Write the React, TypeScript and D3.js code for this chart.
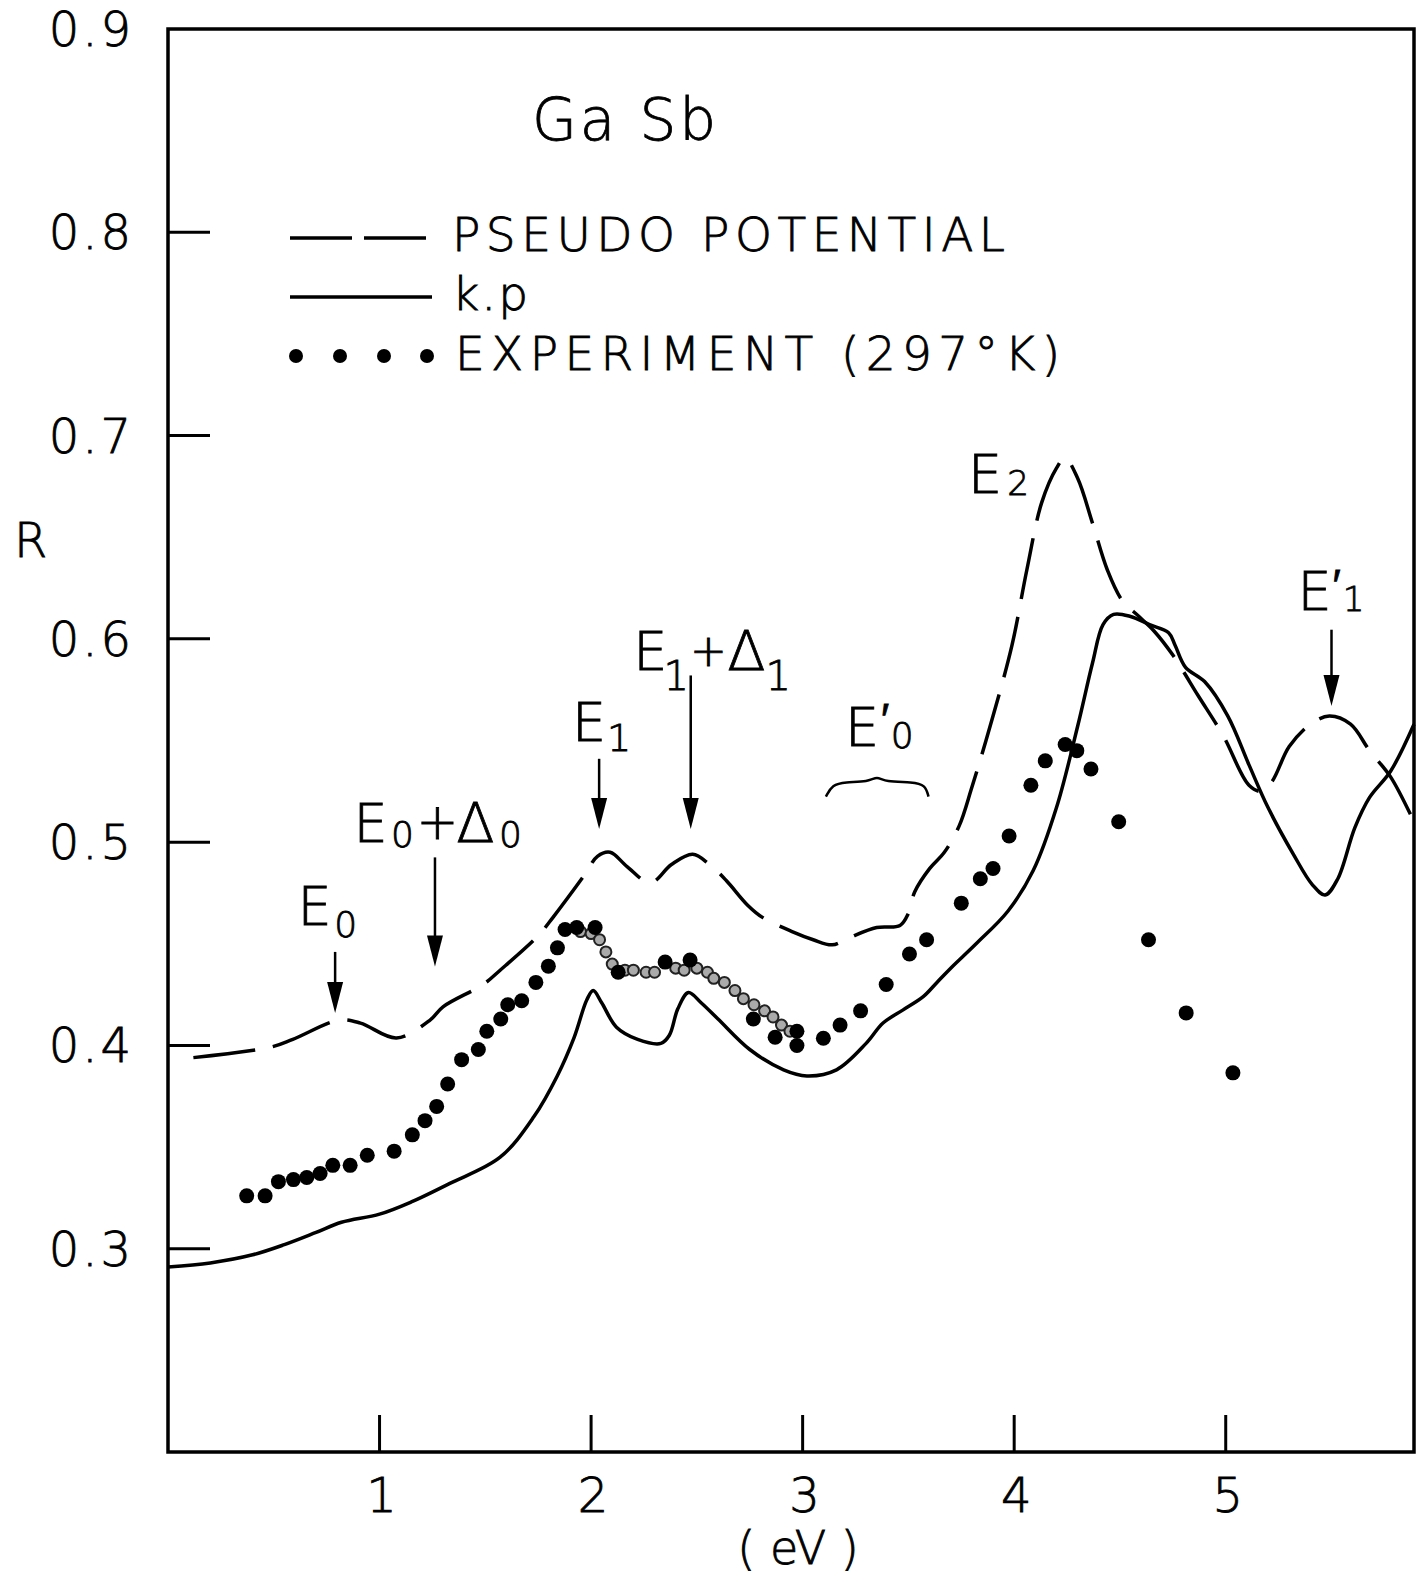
import { useEffect, useRef } from "react";
import * as d3 from "d3";

// GaSb reflectivity: pseudopotential vs k.p vs experiment (297 K)

const WIDTH = 1428;
const HEIGHT = 1582;
const X_MAX = 5.89;
const FONT = "'DejaVu Sans', 'Liberation Sans', sans-serif";

type Pt = [number, number]; // [energy eV, R]

const pseudoPotential: Pt[] = [
  [0.12, 0.394], [0.48, 0.399], [0.59, 0.403], [0.81, 0.4125], [0.91, 0.411],
  [1.08, 0.4037], [1.24, 0.4126], [1.3, 0.419], [1.49, 0.43], [1.57, 0.437],
  [1.75, 0.454], [1.82, 0.463], [1.97, 0.484], [2.03, 0.493], [2.09, 0.495],
  [2.17, 0.488], [2.28, 0.48], [2.38, 0.489], [2.48, 0.494], [2.56, 0.489],
  [2.64, 0.481], [2.74, 0.469], [2.81, 0.463], [2.95, 0.456], [3.05, 0.452],
  [3.14, 0.4495], [3.22, 0.453], [3.35, 0.458], [3.46, 0.459], [3.5, 0.465],
  [3.53, 0.4756], [3.6, 0.487], [3.67, 0.495], [3.74, 0.508], [3.8, 0.527],
  [3.9, 0.562], [3.99, 0.597], [4.06, 0.634], [4.13, 0.667], [4.2, 0.684],
  [4.24, 0.689], [4.3, 0.679], [4.37, 0.657], [4.44, 0.634], [4.51, 0.619],
  [4.59, 0.611], [4.66, 0.604], [4.75, 0.592], [4.87, 0.572], [4.99, 0.552],
  [5.11, 0.528], [5.17, 0.525], [5.22, 0.53], [5.3, 0.547], [5.4, 0.558],
  [5.49, 0.562], [5.59, 0.558], [5.68, 0.545], [5.78, 0.532], [5.89, 0.51],
];

const kpTheory: Pt[] = [
  [0.0, 0.291], [0.2, 0.293], [0.4, 0.297], [0.55, 0.302], [0.7, 0.308],
  [0.82, 0.313], [1.0, 0.317], [1.15, 0.323], [1.33, 0.332], [1.57, 0.345],
  [1.73, 0.365], [1.84, 0.385], [1.92, 0.404], [1.98, 0.4225], [2.01, 0.427],
  [2.05, 0.421], [2.12, 0.409], [2.22, 0.403], [2.33, 0.401], [2.37, 0.405],
  [2.41, 0.418], [2.46, 0.426], [2.52, 0.421], [2.6, 0.413], [2.75, 0.398],
  [2.91, 0.388], [3.02, 0.385], [3.16, 0.388], [3.3, 0.401], [3.38, 0.411],
  [3.475, 0.4175], [3.57, 0.424], [3.635, 0.431], [3.7, 0.438], [3.82, 0.45],
  [3.97, 0.466], [4.09, 0.486], [4.2, 0.517], [4.3, 0.557], [4.37, 0.588],
  [4.42, 0.607], [4.47, 0.612], [4.55, 0.611], [4.64, 0.607], [4.73, 0.603],
  [4.76, 0.597], [4.81, 0.586], [4.9, 0.579], [5.01, 0.562], [5.11, 0.538],
  [5.2, 0.517], [5.32, 0.494], [5.41, 0.479], [5.47, 0.474], [5.53, 0.482],
  [5.61, 0.507], [5.68, 0.522], [5.78, 0.535], [5.89, 0.558],
];

const experiment: Pt[] = [
  [0.372, 0.326], [0.459, 0.326], [0.522, 0.333], [0.593, 0.334], [0.656, 0.335],
  [0.719, 0.337], [0.779, 0.341], [0.861, 0.341], [0.942, 0.346], [1.069, 0.348],
  [1.155, 0.356], [1.215, 0.363], [1.27, 0.37], [1.322, 0.381], [1.388, 0.393],
  [1.467, 0.398], [1.507, 0.407], [1.573, 0.413], [1.606, 0.42], [1.672, 0.422],
  [1.739, 0.431], [1.798, 0.439], [1.841, 0.448], [1.877, 0.457], [1.932, 0.458],
  [2.019, 0.458], [2.128, 0.436], [2.35, 0.441], [2.468, 0.442], [2.767, 0.413],
  [2.87, 0.404], [2.973, 0.4], [2.973, 0.407], [3.098, 0.4035], [3.177, 0.41],
  [3.274, 0.417], [3.395, 0.43], [3.505, 0.445], [3.586, 0.452], [3.75, 0.47],
  [3.84, 0.482], [3.9, 0.487], [3.976, 0.503], [4.079, 0.528], [4.147, 0.54],
  [4.241, 0.548], [4.296, 0.545], [4.363, 0.536], [4.494, 0.51], [4.635, 0.452],
  [4.813, 0.416], [5.034, 0.3865],
];

// densely sampled experimental stretch between E1 and 3 eV (smudgy band)
const experimentDense: Pt[] = [
  [1.95, 0.456], [2.0, 0.455], [2.04, 0.452], [2.07, 0.446], [2.1, 0.44],
  [2.16, 0.437], [2.2, 0.437], [2.26, 0.436], [2.3, 0.436], [2.4, 0.438],
  [2.44, 0.437], [2.5, 0.438], [2.55, 0.436], [2.58, 0.433], [2.63, 0.431],
  [2.68, 0.427], [2.72, 0.423], [2.77, 0.42], [2.82, 0.417], [2.86, 0.414],
  [2.9, 0.41], [2.94, 0.407],
];

const yTickValues = [0.3, 0.4, 0.5, 0.6, 0.7, 0.8];
const yTickLabels = [0.3, 0.4, 0.5, 0.6, 0.7, 0.8, 0.9];
const xTickValues = [1, 2, 3, 4, 5];

// transition labels: anchor (centre of the "E") in data space,
// parts offset in px from it (centre x, baseline y)
type Part = { t: string; s: number; ox: number; oy: number };
const transitionLabels: { x: number; r: number; parts: Part[] }[] = [
  { x: 0.693, r: 0.459, parts: [{ t: "E", s: 54, ox: 0, oy: 0 }, { t: "0", s: 36, ox: 31, oy: 12 }] },
  {
    x: 0.957,
    r: 0.5,
    parts: [
      { t: "E", s: 54, ox: 0, oy: 0 },
      { t: "0", s: 36, ox: 32, oy: 5 },
      { t: "+", s: 50, ox: 67, oy: -3 },
      { t: "Δ", s: 56, ox: 105, oy: 0 },
      { t: "0", s: 36, ox: 140, oy: 5 },
    ],
  },
  { x: 1.99, r: 0.55, parts: [{ t: "E", s: 54, ox: 0, oy: 0 }, { t: "1", s: 38, ox: 30, oy: 10 }] },
  {
    x: 2.28,
    r: 0.5846,
    parts: [
      { t: "E", s: 54, ox: 0, oy: 0 },
      { t: "1", s: 40, ox: 26, oy: 20 },
      { t: "+", s: 44, ox: 58, oy: -4 },
      { t: "Δ", s: 56, ox: 96, oy: 0 },
      { t: "1", s: 40, ox: 128, oy: 20 },
    ],
  },
  {
    x: 3.281,
    r: 0.5473,
    parts: [
      { t: "E", s: 54, ox: 0, oy: 0 },
      { t: "′", s: 44, ox: 23, oy: -11 },
      { t: "0", s: 36, ox: 40, oy: 2 },
    ],
  },
  { x: 3.862, r: 0.6716, parts: [{ t: "E", s: 54, ox: 0, oy: 0 }, { t: "2", s: 34, ox: 33, oy: 2 }] },
  {
    x: 5.42,
    r: 0.6144,
    parts: [
      { t: "E", s: 54, ox: 0, oy: 0 },
      { t: "′", s: 44, ox: 22, oy: -9 },
      { t: "1", s: 34, ox: 39, oy: 1 },
    ],
  },
];

// arrows: x, top R, tip R
const arrows: [number, number, number][] = [
  [0.79, 0.446, 0.416],
  [1.262, 0.4925, 0.4388],
  [2.038, 0.541, 0.5065],
  [2.471, 0.582, 0.5065],
  [5.5, 0.6045, 0.567],
];

// brace over E0'
const brace: Pt[] = [
  [3.11, 0.5224], [3.14, 0.5282], [3.2, 0.5296], [3.31, 0.5296], [3.352, 0.5325],
  [3.39, 0.5296], [3.52, 0.5296], [3.58, 0.5282], [3.595, 0.5224],
];

export default function App() {
  const svgRef = useRef<SVGSVGElement | null>(null);

  useEffect(() => {
    const svgEl = svgRef.current;
    if (!svgEl) return;
    const svg = d3.select(svgEl);
    svg.selectAll("*").remove();

    const x = d3.scaleLinear().domain([0, X_MAX]).range([168, 1414]);
    const y = d3.scaleLinear().domain([0.2, 0.9]).range([1452, 29]);

    svg.append("rect").attr("width", WIDTH).attr("height", HEIGHT).attr("fill", "#fff");

    // frame
    svg
      .append("rect")
      .attr("x", x(0))
      .attr("y", y(0.9))
      .attr("width", x(X_MAX) - x(0))
      .attr("height", y(0.2) - y(0.9))
      .attr("fill", "none")
      .attr("stroke", "#000")
      .attr("stroke-width", 3.5);

    // inward ticks
    svg
      .selectAll("line.yt")
      .data(yTickValues)
      .join("line")
      .attr("x1", x(0))
      .attr("x2", x(0) + 42)
      .attr("y1", (d) => y(d))
      .attr("y2", (d) => y(d))
      .attr("stroke", "#000")
      .attr("stroke-width", 3);

    svg
      .selectAll("line.xt")
      .data(xTickValues)
      .join("line")
      .attr("x1", (d) => x(d))
      .attr("x2", (d) => x(d))
      .attr("y1", y(0.2))
      .attr("y2", y(0.2) - 37)
      .attr("stroke", "#000")
      .attr("stroke-width", 3);

    const txt = (sel: d3.Selection<any, any, any, any>, size: number) =>
      sel
        .attr("font-family", FONT)
        .attr("font-weight", 300)
        .attr("font-size", size)
        .attr("fill", "#000")
        .attr("stroke", "#000")
        .attr("stroke-width", 0.8);

    svg
      .selectAll("text.yl")
      .data(yTickLabels)
      .join("text")
      .attr("x", 134)
      .attr("y", (d) => y(d) + 17)
      .attr("text-anchor", "end")
      .attr("letter-spacing", 3)
      .text((d) => d3.format(".1f")(d))
      .call(txt, 48);

    svg
      .selectAll("text.xl")
      .data(xTickValues)
      .join("text")
      .attr("x", (d) => x(d) + 2)
      .attr("y", 1512)
      .attr("text-anchor", "middle")
      .text((d) => String(d))
      .call(txt, 48);

    svg.append("text").attr("x", 14).attr("y", 557).text("R").call(txt, 48);
    svg
      .append("text")
      .attr("x", 798)
      .attr("y", 1564)
      .attr("text-anchor", "middle")
      .text("( eV )")
      .call(txt, 46);

    // title + legend
    svg
      .append("text")
      .attr("x", 532)
      .attr("y", 140)
      .attr("textLength", 184)
      .attr("lengthAdjust", "spacing")
      .text("Ga Sb")
      .call(txt, 58);

    svg
      .append("line")
      .attr("x1", 290)
      .attr("x2", 432)
      .attr("y1", 238)
      .attr("y2", 238)
      .attr("stroke", "#000")
      .attr("stroke-width", 3.5)
      .attr("stroke-dasharray", "62 12");
    svg
      .append("line")
      .attr("x1", 290)
      .attr("x2", 432)
      .attr("y1", 297)
      .attr("y2", 297)
      .attr("stroke", "#000")
      .attr("stroke-width", 3.5);
    svg
      .selectAll("circle.lg")
      .data([296, 340, 384, 427])
      .join("circle")
      .attr("cx", (d) => d)
      .attr("cy", 356)
      .attr("r", 7)
      .attr("fill", "#000");

    svg
      .append("text")
      .attr("x", 452)
      .attr("y", 251)
      .attr("textLength", 553)
      .attr("lengthAdjust", "spacing")
      .text("PSEUDO POTENTIAL")
      .call(txt, 47);
    svg.append("text").attr("x", 452).attr("y", 310).text("k.p").attr("letter-spacing", 2).call(txt, 47);
    svg
      .append("text")
      .attr("x", 455)
      .attr("y", 370)
      .attr("textLength", 605)
      .attr("lengthAdjust", "spacing")
      .text("EXPERIMENT (297°K)")
      .call(txt, 47);

    // curves
    const line = d3
      .line<Pt>()
      .x((d) => x(d[0]))
      .y((d) => y(d[1]))
      .curve(d3.curveCatmullRom.alpha(0.5));

    svg
      .append("path")
      .datum(pseudoPotential)
      .attr("d", line)
      .attr("fill", "none")
      .attr("stroke", "#000")
      .attr("stroke-width", 3.5)
      .attr("stroke-dasharray", "62 18");

    svg
      .append("path")
      .datum(kpTheory)
      .attr("d", line)
      .attr("fill", "none")
      .attr("stroke", "#000")
      .attr("stroke-width", 3.5);

    svg
      .selectAll("circle.band")
      .data(experimentDense)
      .join("circle")
      .attr("cx", (d) => x(d[0]))
      .attr("cy", (d) => y(d[1]))
      .attr("r", 5.5)
      .attr("fill", "#aaa")
      .attr("stroke", "#222")
      .attr("stroke-width", 2);

    svg
      .selectAll("circle.exp")
      .data(experiment)
      .join("circle")
      .attr("cx", (d) => x(d[0]))
      .attr("cy", (d) => y(d[1]))
      .attr("r", 7.5)
      .attr("fill", "#000");

    // transition labels, one text element each
    transitionLabels.forEach((lab) => {
      const t = svg.append("text").call(txt, 54).attr("text-anchor", "middle");
      lab.parts.forEach((p) => {
        t.append("tspan")
          .attr("x", x(lab.x) + p.ox)
          .attr("y", y(lab.r) + p.oy)
          .attr("font-size", p.s)
          .text(p.t);
      });
    });

    arrows.forEach(([ax, top, tip]) => {
      const px = x(ax);
      const yTip = y(tip);
      svg
        .append("line")
        .attr("x1", px)
        .attr("x2", px)
        .attr("y1", y(top))
        .attr("y2", yTip - 20)
        .attr("stroke", "#000")
        .attr("stroke-width", 2.5);
      svg
        .append("path")
        .attr("d", `M${px - 8},${yTip - 31}L${px + 8},${yTip - 31}L${px},${yTip}Z`)
        .attr("fill", "#000");
    });

    svg
      .append("path")
      .datum(brace)
      .attr("d", line.curve(d3.curveBasis))
      .attr("fill", "none")
      .attr("stroke", "#000")
      .attr("stroke-width", 2.5);
  }, []);

  return (
    <svg
      ref={svgRef}
      width={WIDTH}
      height={HEIGHT}
      style={{ position: "absolute", left: 0, top: 0, display: "block" }}
    />
  );
}
